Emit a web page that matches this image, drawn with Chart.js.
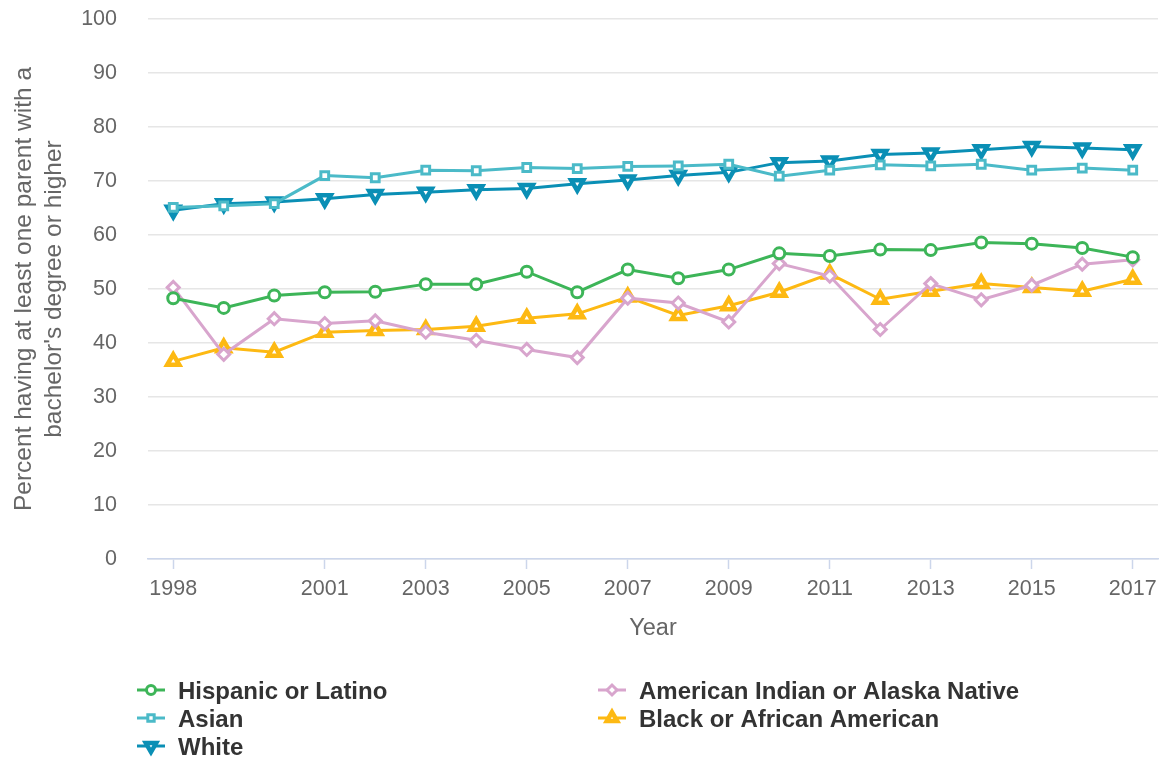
<!DOCTYPE html>
<html>
<head>
<meta charset="utf-8">
<script src="https://cdn.jsdelivr.net/npm/chart.js@4/dist/chart.umd.min.js"></script>
<style>
  html, body { margin: 0; padding: 0; background: #fff; }
  #wrap { width: 1160px; height: 758px; }
</style>
</head>
<body>
<div id="wrap"><canvas id="chart" width="1160" height="758"></canvas></div>
<script>
'use strict';

var years = ['1998', '1999', '2000', '2001', '2002', '2003', '2004', '2005', '2006', '2007',
             '2008', '2009', '2010', '2011', '2012', '2013', '2014', '2015', '2016', '2017'];
var xTickLabels = ['1998', '2001', '2003', '2005', '2007', '2009', '2011', '2013', '2015', '2017'];

var hispanic = [48.3, 46.5, 48.8, 49.4, 49.5, 50.9, 50.9, 53.2, 49.4, 53.6,
                52.0, 53.6, 56.6, 56.1, 57.3, 57.2, 58.6, 58.4, 57.6, 55.9];
var asian = [65.1, 65.4, 65.8, 71.0, 70.6, 72.0, 71.9, 72.5, 72.3, 72.7,
             72.8, 73.1, 70.9, 72.0, 73.0, 72.8, 73.1, 72.0, 72.4, 72.0];
var white = [64.6, 65.8, 66.1, 66.7, 67.5, 67.9, 68.4, 68.6, 69.5, 70.2,
             71.0, 71.6, 73.4, 73.7, 74.9, 75.2, 75.8, 76.4, 76.1, 75.8];
var amIndian = [50.3, 37.9, 44.5, 43.6, 44.1, 42.0, 40.5, 38.8, 37.3, 48.3,
                47.4, 43.9, 54.7, 52.4, 42.5, 51.0, 48.0, 50.7, 54.6, 55.4];
var black = [36.6, 39.1, 38.3, 42.0, 42.3, 42.5, 43.1, 44.6, 45.4, 48.5,
             45.1, 46.9, 49.4, 52.8, 48.1, 49.6, 51.0, 50.3, 49.6, 51.8];

var FONT = '"Liberation Sans", Arial, sans-serif';

function series(label, data, color, style, rotation, radius, pbw) {
    return {
        label: label,
        data: data,
        borderColor: color,
        backgroundColor: color,
        borderWidth: 3,
        pointStyle: style,
        pointRotation: rotation,
        pointRadius: radius,
        pointHoverRadius: radius,
        pointBorderWidth: pbw,
        pointBorderColor: color,
        pointBackgroundColor: '#ffffff',
        tension: 0
    };
}

// two-column legend under the plot (first three datasets in column one)
var columnLegend = {
    id: 'columnLegend',
    afterDraw: function (chart) {
        var ctx = chart.ctx;
        var cols = [137, 598];
        var rows = [690, 718, 746];
        ctx.save();
        chart.data.datasets.forEach(function (ds, i) {
            var col = i < 3 ? 0 : 1;
            var row = i < 3 ? i : i - 3;
            var x = cols[col], y = rows[row];
            ctx.strokeStyle = ds.borderColor;
            ctx.lineWidth = 3;
            ctx.beginPath();
            ctx.moveTo(x, y);
            ctx.lineTo(x + 28, y);
            ctx.stroke();
            ctx.fillStyle = '#ffffff';
            ctx.lineWidth = ds.pointBorderWidth;
            Chart.helpers.drawPoint(ctx, {
                pointStyle: ds.pointStyle,
                rotation: ds.pointRotation,
                radius: ds.pointRadius - 1,
                borderWidth: ds.pointBorderWidth
            }, x + 14, y);
            ctx.fillStyle = '#333333';
            ctx.font = 'bold 24px ' + FONT;
            ctx.textBaseline = 'middle';
            ctx.textAlign = 'left';
            ctx.fillText(ds.label, x + 41, y + 2);
        });
        ctx.restore();
    }
};

drawChart();

function drawChart() {
    var ctx = document.getElementById('chart').getContext('2d');
    new Chart(ctx, {
        type: 'line',
        data: {
            labels: years,
            datasets: [
                series('Hispanic or Latino', hispanic, '#3db558', 'circle', 0, 5.5, 3),
                series('Asian', asian, '#4bbac8', 'rect', 0, 5.5, 3),
                series('White', white, '#0a8fb5', 'triangle', 180, 7, 4.5),
                series('American Indian or Alaska Native', amIndian, '#d8a5cd', 'rectRot', 0, 6, 3),
                series('Black or African American', black, '#fdb913', 'triangle', 0, 7, 4.5)
            ]
        },
        options: {
            responsive: false,
            animation: false,
            layout: { autoPadding: false, padding: { top: 19, right: 2, bottom: 115, left: 9 } },
            plugins: {
                legend: { display: false },
                tooltip: { enabled: false }
            },
            scales: {
                x: {
                    offset: true,
                    grid: {
                        offset: false,
                        drawOnChartArea: false,
                        tickLength: 10,
                        tickWidth: 1.5,
                        tickColor: function (c) {
                            return xTickLabels.indexOf(years[c.index]) >= 0 ? '#ccd6eb' : 'rgba(0,0,0,0)';
                        }
                    },
                    border: { color: '#ccd6eb', width: 1.5 },
                    ticks: {
                        autoSkip: false,
                        maxRotation: 0,
                        padding: 7,
                        color: '#666666',
                        font: { family: FONT, size: 21.5 },
                        callback: function (v, i) {
                            return xTickLabels.indexOf(years[i]) >= 0 ? years[i] : '';
                        }
                    },
                    title: {
                        display: true,
                        text: 'Year',
                        color: '#666666',
                        font: { family: FONT, size: 23.5 },
                        padding: { top: 12, bottom: 0 }
                    },
                    afterFit: function (s) {
                        s.height = 84;
                        s.paddingLeft = 0;
                        s.paddingRight = 0;
                    }
                },
                y: {
                    min: 0,
                    max: 100,
                    ticks: {
                        stepSize: 10,
                        padding: 31,
                        color: '#666666',
                        font: { family: FONT, size: 21.5 }
                    },
                    grid: { color: '#e6e6e6', lineWidth: 1.5, drawTicks: false },
                    border: { display: false },
                    title: {
                        display: true,
                        text: ['Percent having at least one parent with a', "bachelor's degree or higher"],
                        color: '#666666',
                        font: { family: FONT, size: 24.5, lineHeight: 1.22 },
                        padding: { top: 0, bottom: 0 }
                    },
                    afterFit: function (s) {
                        s.width = 139;
                        s.paddingTop = 0;
                        s.paddingBottom = 0;
                        s.paddingLeft = 0;
                        s.paddingRight = 0;
                    }
                }
            }
        },
        plugins: [columnLegend]
    });
}
</script>
</body>
</html>
